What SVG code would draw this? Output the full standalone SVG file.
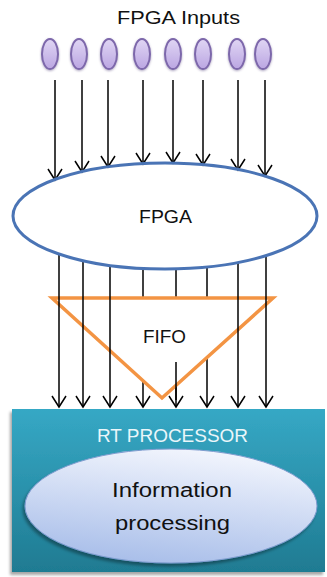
<svg xmlns="http://www.w3.org/2000/svg" width="327" height="577" viewBox="0 0 327 577">
  <style>
    .lbl { font-family: "Liberation Sans", Arial, sans-serif; fill: #111; text-anchor: middle; }
    .wire { stroke: #000; stroke-width: 1.5; fill: none; }
    .arrow { marker-end: url(#head); }
    .inp { fill: url(#inpGrad); stroke: #7d67ab; stroke-width: 2; filter: url(#soft); }
  </style>
  <defs>
    <marker id="head" markerUnits="userSpaceOnUse" orient="auto" overflow="visible" markerWidth="14" markerHeight="16" refX="0" refY="0">
      <path d="M-11,-7 L0,0 L-11,7" fill="none" stroke="#000" stroke-width="1.5"/>
    </marker>
    <linearGradient id="inpGrad" x1="0" y1="0" x2="0" y2="1">
      <stop offset="0" stop-color="#e0d6f4"/>
      <stop offset="1" stop-color="#bba6e2"/>
    </linearGradient>
    <linearGradient id="rtGrad" x1="0" y1="0" x2="0" y2="1">
      <stop offset="0" stop-color="#36a8c5"/>
      <stop offset="1" stop-color="#1f7b92"/>
    </linearGradient>
    <linearGradient id="infoGrad" x1="0.6" y1="0" x2="0.3" y2="1">
      <stop offset="0" stop-color="#f2f5fd"/>
      <stop offset="1" stop-color="#a7bde9"/>
    </linearGradient>
    <filter id="soft" x="-50%" y="-50%" width="200%" height="200%">
      <feDropShadow dx="0" dy="1" stdDeviation="1.2" flood-color="#5a4a80" flood-opacity="0.5"/>
    </filter>
    <filter id="shadow" x="-10%" y="-10%" width="120%" height="120%">
      <feDropShadow dx="-2" dy="3" stdDeviation="1.5" flood-color="#000" flood-opacity="0.35"/>
    </filter>
  </defs>

  <g id="inputs-title">
    <text class="lbl" x="178.5" y="24" font-size="17.5" textLength="123" lengthAdjust="spacingAndGlyphs">FPGA Inputs</text>
  </g>

  <g id="inputs">
    <ellipse class="inp" cx="50" cy="54" rx="8" ry="15"/>
    <ellipse class="inp" cx="79" cy="54" rx="8" ry="15"/>
    <ellipse class="inp" cx="109" cy="54" rx="8" ry="15"/>
    <ellipse class="inp" cx="142" cy="54" rx="8" ry="15"/>
    <ellipse class="inp" cx="173" cy="54" rx="8" ry="15"/>
    <ellipse class="inp" cx="203" cy="54" rx="8" ry="15"/>
    <ellipse class="inp" cx="237" cy="54" rx="8" ry="15"/>
    <ellipse class="inp" cx="263" cy="54" rx="8" ry="15"/>
  </g>

  <g id="connectors-inputs">
    <line class="wire arrow" x1="55" y1="80" x2="55" y2="180"/>
    <line class="wire arrow" x1="82" y1="80" x2="82" y2="172"/>
    <line class="wire arrow" x1="108" y1="80" x2="108" y2="167"/>
    <line class="wire arrow" x1="143" y1="80" x2="143" y2="164"/>
    <line class="wire arrow" x1="173" y1="80" x2="173" y2="163"/>
    <line class="wire arrow" x1="203" y1="80" x2="203" y2="165"/>
    <line class="wire arrow" x1="238" y1="80" x2="238" y2="170"/>
    <line class="wire arrow" x1="265" y1="80" x2="265" y2="176"/>
  </g>

  <g id="rt-processor">
    <rect x="12" y="409" width="313" height="163" fill="url(#rtGrad)" filter="url(#shadow)"/>
    <text x="172.5" y="441.5" font-family="Liberation Sans, Arial, sans-serif" font-size="19" fill="#eaf6fa" text-anchor="middle" textLength="151" lengthAdjust="spacingAndGlyphs">RT PROCESSOR</text>
  </g>

  <g id="information-processing">
    <ellipse cx="171" cy="506" rx="146" ry="57" fill="url(#infoGrad)" stroke="#7f9ccf" stroke-width="1" filter="url(#shadow)"/>
    <text class="lbl" x="172" y="497" font-size="20" textLength="120" lengthAdjust="spacingAndGlyphs">Information</text>
    <text class="lbl" x="172.5" y="530" font-size="20" textLength="115" lengthAdjust="spacingAndGlyphs">processing</text>
  </g>

  <g id="connectors-back">
    <line class="wire arrow" x1="143" y1="268" x2="143" y2="407"/>
    <line class="wire arrow" x1="176" y1="269" x2="176" y2="407"/>
    <line class="wire arrow" x1="207" y1="267" x2="207" y2="407"/>
  </g>

  <g id="fifo">
    <polygon points="52,298 273,298 162,398" fill="#fff" stroke="#f39443" stroke-width="3.5" stroke-linejoin="miter"/>
    <text class="lbl" x="164.5" y="343" font-size="19" textLength="43" lengthAdjust="spacingAndGlyphs">FIFO</text>
  </g>

  <g id="connectors-front">
    <line class="wire arrow" x1="59" y1="254" x2="59" y2="407"/>
    <line class="wire arrow" x1="83" y1="260" x2="83" y2="407"/>
    <line class="wire arrow" x1="110" y1="265" x2="110" y2="407"/>
    <line class="wire" x1="176" y1="362" x2="176" y2="400"/>
    <line class="wire arrow" x1="238" y1="262" x2="238" y2="407"/>
    <line class="wire arrow" x1="266" y1="255" x2="266" y2="407"/>
  </g>

  <g id="fpga">
    <ellipse cx="165" cy="216" rx="152" ry="53" fill="none" stroke="#4a74b5" stroke-width="3"/>
    <text class="lbl" x="165.5" y="223" font-size="18.5" textLength="53" lengthAdjust="spacingAndGlyphs">FPGA</text>
  </g>
</svg>
